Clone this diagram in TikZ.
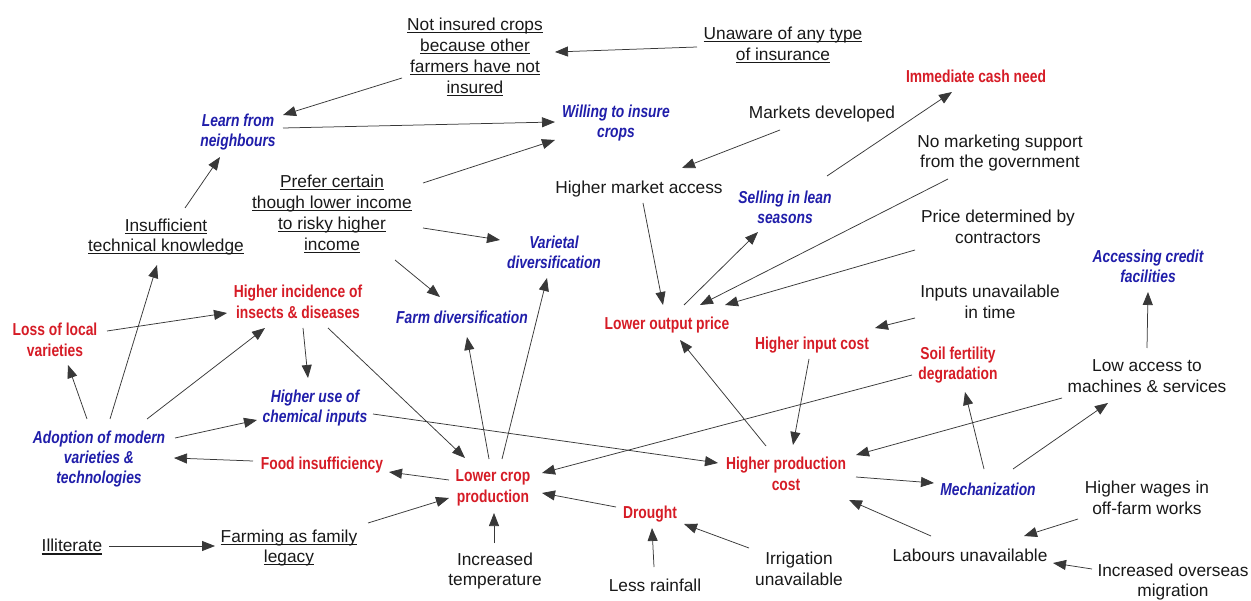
\documentclass[tikz,border=0pt]{standalone}
\usepackage{fontspec}
\setmainfont{Liberation Sans}
\newfontfamily\redfont[FakeStretch=0.8]{Liberation Sans Bold}
\newfontfamily\bluefont[FakeStretch=0.8]{Liberation Sans Bold Italic}
\usetikzlibrary{arrows.meta}
\definecolor{effectred}{RGB}{214,28,38}
\definecolor{actionblue}{RGB}{32,30,170}
% underline a single line of text just below its baseline
\newcommand\ulline[1]{\setbox0\hbox{#1}\rlap{\rule[-2.6pt]{\wd0}{1.1pt}}\box0}
% arrow from a point near node #1 (offset #2) to a point near node #3 (offset #4)
\newcommand\link[4]{\draw[arr] ([shift={(#2)}]#1.center) -- ([shift={(#4)}]#3.center);}

\begin{document}
\begin{tikzpicture}[x=1pt,y=-1pt,
  every node/.style={inner sep=1pt, align=center},
  plain/.style={font=\fontsize{17.3}{20.8}\selectfont, text=black!90},
  effect/.style={font=\redfont\fontsize{17.3}{20.5}\selectfont, text=effectred},
  action/.style={font=\bluefont\fontsize{17.3}{20.3}\selectfont, text=actionblue},
  arr/.style={draw=black!78, line width=0.75pt, -{Triangle[length=13pt,width=10pt]}}]

\fill[white] (0,0) rectangle (1251,601);
\useasboundingbox (0,0) rectangle (1251,601);

% ---- plain / underlined conditions ----
\node[plain] (nins) at (475,57) {\ulline{Not insured crops}\\\ulline{because other}\\\ulline{farmers have not}\\\ulline{insured}};
\node[plain] (unaw) at (783,45) {\ulline{Unaware of any type}\\\ulline{of insurance}};
\node[plain] (insuf) at (166,237) {\ulline{Insufficient}\\\ulline{technical knowledge}};
\node[plain] (prefer) at (332,214) {\ulline{Prefer certain}\\\ulline{though lower income}\\\ulline{to risky higher}\\\ulline{income}};
\node[plain] (illit) at (72,547) {\ulline{Illiterate}};
\node[plain] (legacy) at (289,548) {\ulline{Farming as family}\\\ulline{legacy}};

\node[plain] (mkt) at (822,114) {Markets developed};
\node[plain] (hma) at (639,189) {Higher market access};
\node[plain] (nomk) at (1000,153) {No marketing support\\from the government};
\node[plain] (price) at (998,227) {Price determined by\\contractors};
\node[plain] (inputs) at (990,302) {Inputs unavailable\\in time};
\node[plain] (lowacc) at (1147,376) {Low access to\\machines \& services};
\node[plain] (wages) at (1147,498) {Higher wages in\\off-farm works};
\node[plain] (labour) at (970,555) {Labours unavailable};
\node[plain] (migr) at (1173,582) {Increased overseas\\migration};
\node[plain] (temp) at (495,571) {Increased\\temperature};
\node[plain] (rain) at (655,585) {Less rainfall};
\node[plain] (irrig) at (799,569) {Irrigation\\unavailable};

% ---- effects (red) ----
\node[effect] (cash) at (976,76) {Immediate cash need};
\node[effect] (lop) at (667,325) {Lower output price};
\node[effect] (hic) at (812,345) {Higher input cost};
\node[effect] (soil) at (958,365) {Soil fertility\\degradation};
\node[effect] (hpc) at (786,474) {Higher production\\cost};
\node[effect] (drought) at (650,514) {Drought};
\node[effect] (lcp) at (493,488) {Lower crop\\production};
\node[effect] (food) at (322,465) {Food insufficiency};
\node[effect] (hinc) at (298,302) {Higher incidence of\\insects \& diseases};
\node[effect] (loss) at (55,340) {Loss of local\\varieties};

% ---- responses (blue) ----
\node[action] (learn) at (238,132) {Learn from\\neighbours};
\node[action] (will) at (616,123) {Willing to insure\\crops};
\node[action] (sell) at (785,207) {Selling in lean\\seasons};
\node[action] (vari) at (554,252) {Varietal\\diversification};
\node[action] (credit) at (1148,266) {Accessing credit\\facilities};
\node[action] (farmd) at (462,317) {Farm diversification};
\node[action] (chem) at (315,408) {Higher use of\\chemical inputs};
\node[action] (adopt) at (99,459) {Adoption of modern\\varieties \&\\technologies};
\node[action] (mech) at (988,489) {Mechanization};

% ---- links ----
\link{unaw}{-86,2}{nins}{80,-5}
\link{nins}{-73,21}{learn}{45,-17}
\link{learn}{45,-4}{will}{-61,-1}
\link{prefer}{91,-31}{will}{-61,17}
\link{prefer}{91,14}{vari}{-54,-12}
\link{prefer}{63,46}{farmd}{-22,-20}
\link{insuf}{19,-29}{learn}{-18,25}
\link{adopt}{11,-40}{insuf}{-9,28}
\link{adopt}{-12,-40}{loss}{13,25}
\link{adopt}{48,-40}{hinc}{-33,26}
\link{loss}{52,-9}{hinc}{-71,11}
\link{adopt}{76,-21}{chem}{-58,12}
\link{food}{-69,-4}{adopt}{75,-1}
\link{illit}{37,-1}{legacy}{-74,-2}
\link{legacy}{79,-25}{lcp}{-44,10}
\link{hinc}{5,26}{chem}{-7,-30}
\link{hinc}{30,26}{lcp}{-28,-30}
\link{chem}{58,6}{hpc}{-68,-11}
\link{lcp}{-44,-8}{food}{67,7}
\link{lcp}{-4,-29}{farmd}{5,20}
\link{lcp}{9,-29}{vari}{-7,26}
\link{temp}{-1,-28}{lcp}{1,25}
\link{drought}{-34,-7}{lcp}{49,5}
\link{rain}{-1,-18}{drought}{2,14}
\link{irrig}{-50,-21}{drought}{34,10}
\link{soil}{-46,10}{lcp}{49,-15}
\link{hpc}{-20,-28}{lop}{13,15}
\link{hic}{-3,14}{hpc}{7,-29}
\link{hma}{4,14}{lop}{-4,-20}
\link{mkt}{-42,16}{hma}{43,-21}
\link{lop}{17,-20}{sell}{-27,25}
\link{sell}{42,-31}{cash}{-24,16}
\link{nomk}{-52,26}{lop}{33,-20}
\link{price}{-83,23}{lop}{58,-20}
\link{inputs}{-75,16}{hic}{63,-17}
\link{lowacc}{-85,22}{hpc}{70,-19}
\link{lowacc}{0,-28}{credit}{0,26}
\link{hpc}{70,3}{mech}{-54,-6}
\link{mech}{-4,-20}{soil}{7,27}
\link{mech}{25,-20}{lowacc}{-39,27}
\link{labour}{-39,-19}{hpc}{63,26}
\link{wages}{-69,21}{labour}{54,-19}
\link{migr}{-81,-13}{labour}{83,8}

\end{tikzpicture}
\end{document}
